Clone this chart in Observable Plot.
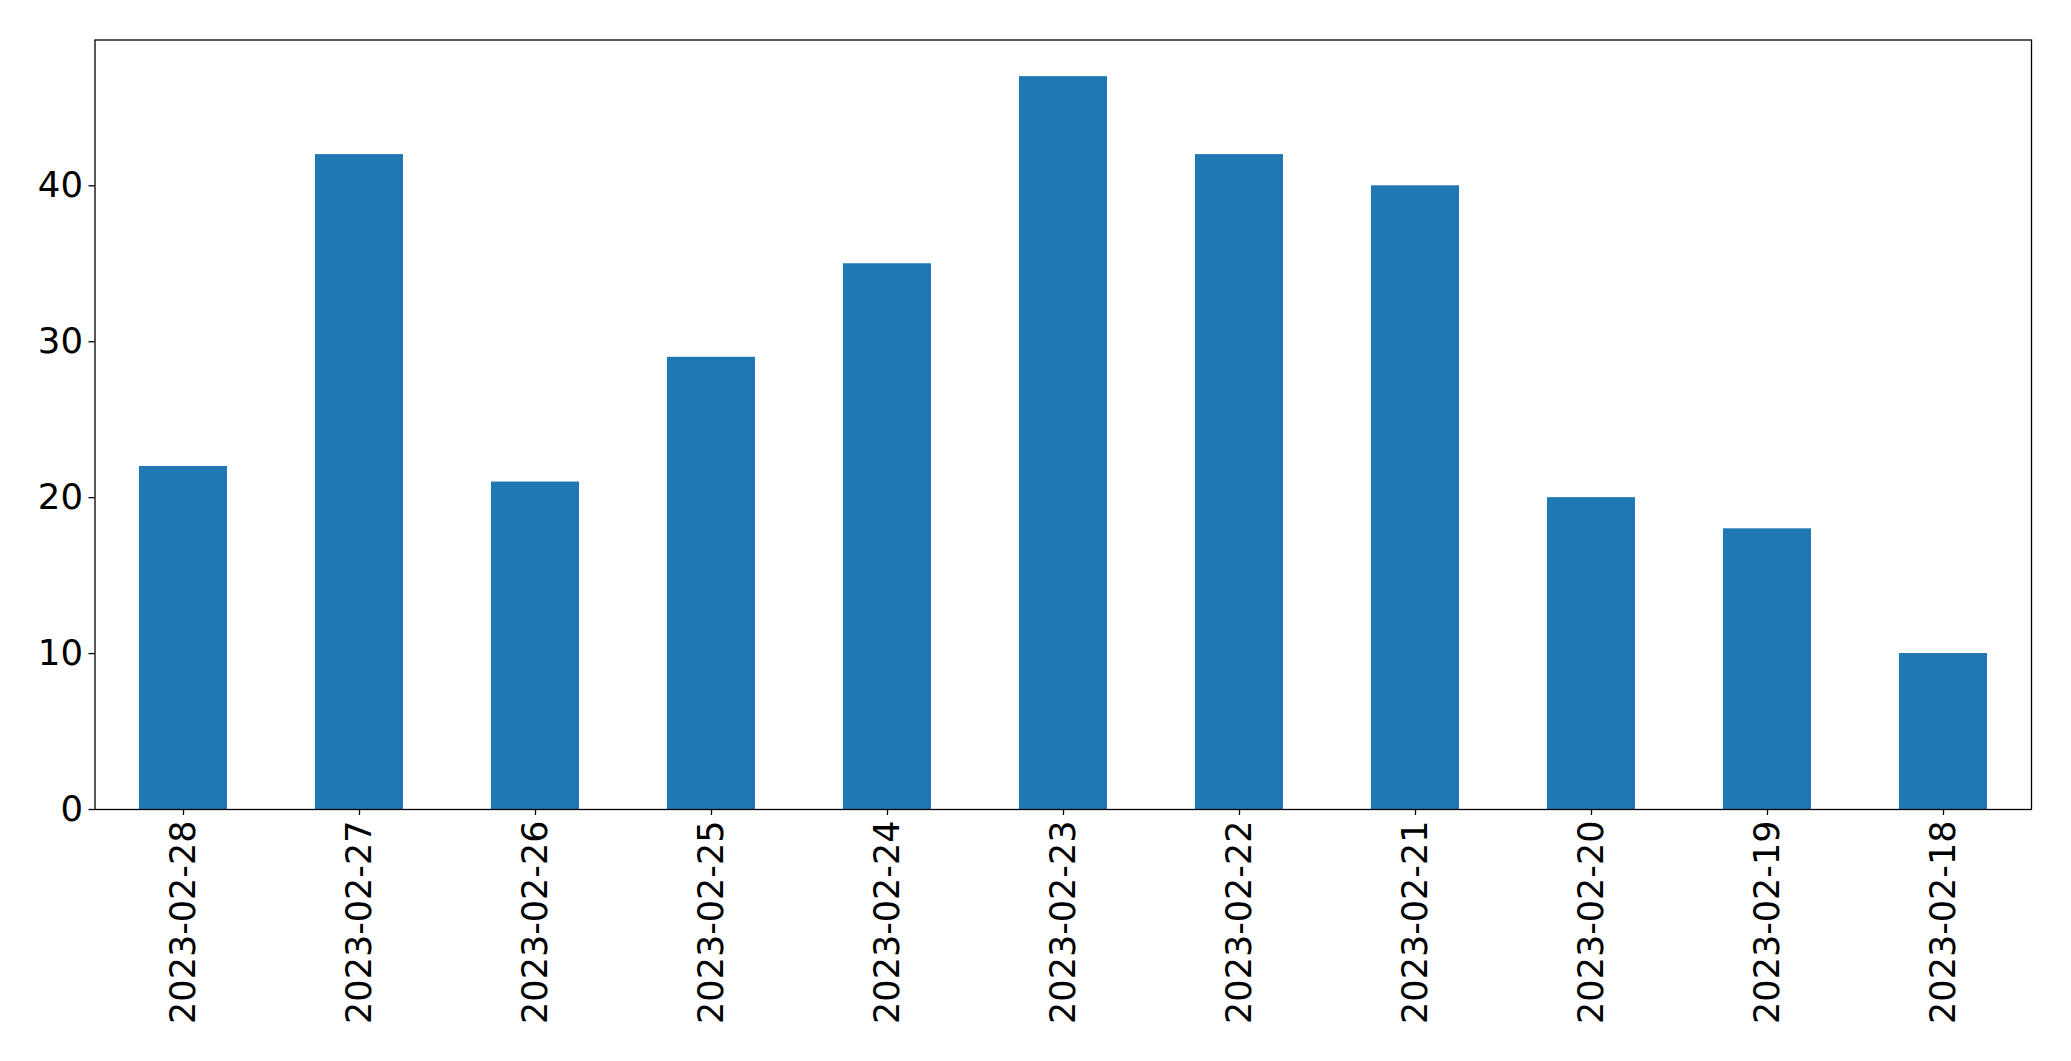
<!DOCTYPE html>
<html>
<head>
<meta charset="utf-8">
<script src="https://cdn.jsdelivr.net/npm/d3@7"></script>
<script src="https://cdn.jsdelivr.net/npm/@observablehq/plot@0.6"></script>
<style>
  html, body { margin: 0; padding: 0; background: #fff; }
  #chart svg { display: block; }
</style>
</head>
<body>
<div id="chart"></div>
<script>
const dates = ["2023-02-28","2023-02-27","2023-02-26","2023-02-25","2023-02-24","2023-02-23","2023-02-22","2023-02-21","2023-02-20","2023-02-19","2023-02-18"];
const counts = [22, 42, 21, 29, 35, 47, 42, 40, 20, 18, 10];
const yTicks = [0, 10, 20, 30, 40];

const data = dates.map((d, i) => ({date: d, count: counts[i]}));
const yMax = d3.max(counts) * 1.05;

const chart = Plot.plot({
  width: 2071,
  height: 1061,
  marginLeft: 94.5,
  marginRight: 40,
  marginTop: 39.5,
  marginBottom: 252,
  style: {fontFamily: "'DejaVu Sans', sans-serif", fontSize: "35px", color: "#000", background: "#fff"},
  x: {domain: dates, paddingInner: 0.5, paddingOuter: 0.25, label: null},
  y: {domain: [0, yMax], label: null},
  marks: [
    Plot.barY(data, {x: "date", y: "count", fill: "#1f77b4"}),
    Plot.frame({stroke: "#000", strokeWidth: 1.3}),
    Plot.axisY({ticks: yTicks, tickSize: 6, tickPadding: 6, tickFormat: d => d, label: null, fontSize: 35.5, stroke: "#000", strokeWidth: 1.3}),
    Plot.axisX({tickSize: 6, tickPadding: 5, tickRotate: -90, label: null, fontSize: 35, stroke: "#000", strokeWidth: 1.3})
  ]
});
document.getElementById("chart").appendChild(chart);
</script>
</body>
</html>
